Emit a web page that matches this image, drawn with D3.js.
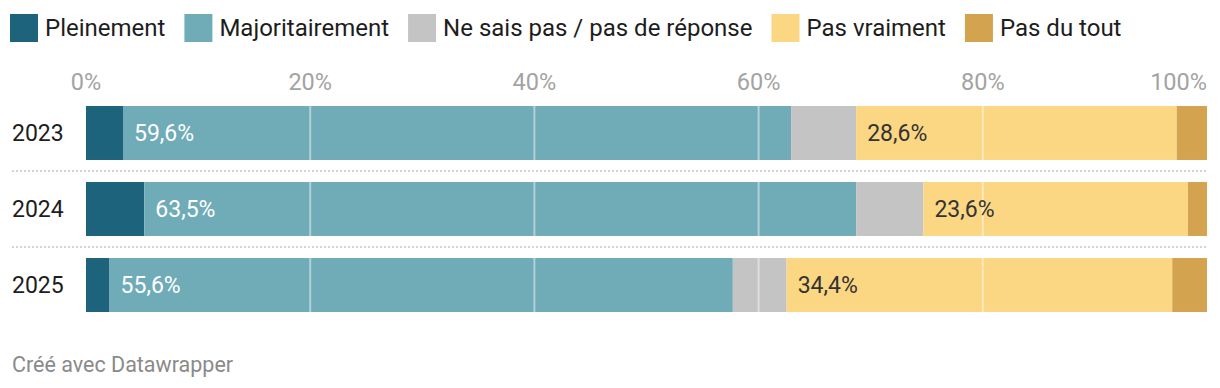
<!DOCTYPE html>
<html>
<head>
<meta charset="utf-8">
<script src="https://cdn.jsdelivr.net/npm/d3@7"></script>
<style>
  body { margin: 0; background: #fff; }
  text { font-family: Roboto, "Noto Sans", sans-serif; }
</style>
</head>
<body>
<div id="chart"></div>
<script>
// DATA
const years = ["2023", "2024", "2025"];
const categories = ["Pleinement", "Majoritairement", "Ne sais pas / pas de réponse", "Pas vraiment", "Pas du tout"];
const pleinement = [3.3, 5.2, 2.1];
const majoritairement = [59.6, 63.5, 55.6];
const neSaisPas = [5.8, 6.0, 4.8];
const pasVraiment = [28.6, 23.6, 34.4];
const pasDuTout = [2.7, 1.7, 3.1];
const tickValues = [0, 20, 40, 60, 80, 100];
const labelledCategories = ["Majoritairement", "Pas vraiment"];

const colors = ["#1c637b", "#70abb8", "#c4c4c4", "#fcd783", "#d4a350"];
const labelColors = {"Majoritairement": "#ffffff", "Pas vraiment": "#333333"};

// CONSTANTS
const width = 1220, height = 388;
const margin = {left: 86, right: 13};

const rows = years.map((y, i) => ({
    year: y,
    "Pleinement": pleinement[i],
    "Majoritairement": majoritairement[i],
    "Ne sais pas / pas de réponse": neSaisPas[i],
    "Pas vraiment": pasVraiment[i],
    "Pas du tout": pasDuTout[i]
}));

const fr = d3.formatLocale({decimal: ",", thousands: " ", grouping: [3], currency: ["", " €"]});
const fmt = d => fr.format(".1f")(d) + "%";

let svg = d3.select("#chart")
    .append("svg")
        .attr("width", width)
        .attr("height", height);

// LEGEND
const colour = d3.scaleOrdinal().domain(categories).range(colors);
let lx = 10;
categories.forEach(c => {
    const g = svg.append("g").attr("transform", `translate(${lx}, 14)`);
    g.append("rect")
        .attr("width", 28)
        .attr("height", 28)
        .attr("fill", colour(c));
    const t = g.append("text")
        .attr("x", 35)
        .attr("y", 22)
        .attr("font-size", 24)
        .attr("fill", "#1d1d1d")
        .text(c);
    lx += 35 + t.node().getComputedTextLength() + 19;
});

// SCALES
let xScale = d3.scaleLinear()
    .domain([0, 100])
    .range([margin.left, width - margin.right]);

let yScale = d3.scaleBand()
    .domain(years)
    .range([95, 323])
    .paddingInner(0.29)
    .paddingOuter(0.145);

// AXIS LABELS
svg.append("g")
    .selectAll("text")
    .data(tickValues)
    .enter()
    .append("text")
        .attr("x", d => xScale(d))
        .attr("y", 90)
        .attr("font-size", 23.5)
        .attr("fill", "#a3a3a3")
        .attr("text-anchor", d => d === 100 ? "end" : "middle")
        .text(d => d + "%");

// SEPARATORS
svg.append("g")
    .selectAll("line")
    .data(years.slice(1))
    .enter()
    .append("line")
        .attr("x1", 12)
        .attr("x2", xScale(100))
        .attr("y1", d => yScale(d) - yScale.step() * yScale.paddingInner() / 2)
        .attr("y2", d => yScale(d) - yScale.step() * yScale.paddingInner() / 2)
        .attr("stroke", "#d3d3d3")
        .attr("stroke-width", 2)
        .attr("stroke-dasharray", "2,2");

// BARS
const stacked = d3.stack().keys(categories)(rows);

let layers = svg.append("g")
    .selectAll("g")
    .data(stacked)
    .enter()
    .append("g")
        .attr("fill", d => colour(d.key));

layers.selectAll("rect")
    .data(d => d)
    .enter()
    .append("rect")
        .attr("x", d => xScale(d[0]))
        .attr("y", d => yScale(d.data.year))
        .attr("width", d => xScale(d[1]) - xScale(d[0]))
        .attr("height", yScale.bandwidth());

// GRIDLINES over the bars
svg.append("g")
    .selectAll("line")
    .data(tickValues.filter(d => d > 0 && d < 100))
    .enter()
    .append("line")
        .attr("x1", d => xScale(d))
        .attr("x2", d => xScale(d))
        .attr("y1", yScale.range()[0])
        .attr("y2", yScale.range()[1])
        .attr("stroke", "#ffffff")
        .attr("stroke-opacity", 0.45)
        .attr("stroke-width", 2);

// YEAR LABELS
svg.append("g")
    .selectAll("text")
    .data(years)
    .enter()
    .append("text")
        .attr("x", 12)
        .attr("y", d => yScale(d) + yScale.bandwidth() / 2)
        .attr("dy", "0.36em")
        .attr("font-size", 23)
        .attr("fill", "#1d1d1d")
        .text(d => d);

// VALUE LABELS
stacked.filter(s => labelledCategories.includes(s.key)).forEach(s => {
    svg.append("g")
        .selectAll("text")
        .data(s)
        .enter()
        .append("text")
            .attr("x", d => xScale(d[0]) + 11)
            .attr("y", d => yScale(d.data.year) + yScale.bandwidth() / 2)
            .attr("dy", "0.36em")
            .attr("font-size", 23)
            .attr("fill", labelColors[s.key])
            .text(d => fmt(d.data[s.key]));
});

// FOOTER
svg.append("text")
    .attr("x", 12)
    .attr("y", 372)
    .attr("font-size", 21.5)
    .attr("fill", "#8a8a8a")
    .text("Créé avec Datawrapper");
</script>
</body>
</html>
